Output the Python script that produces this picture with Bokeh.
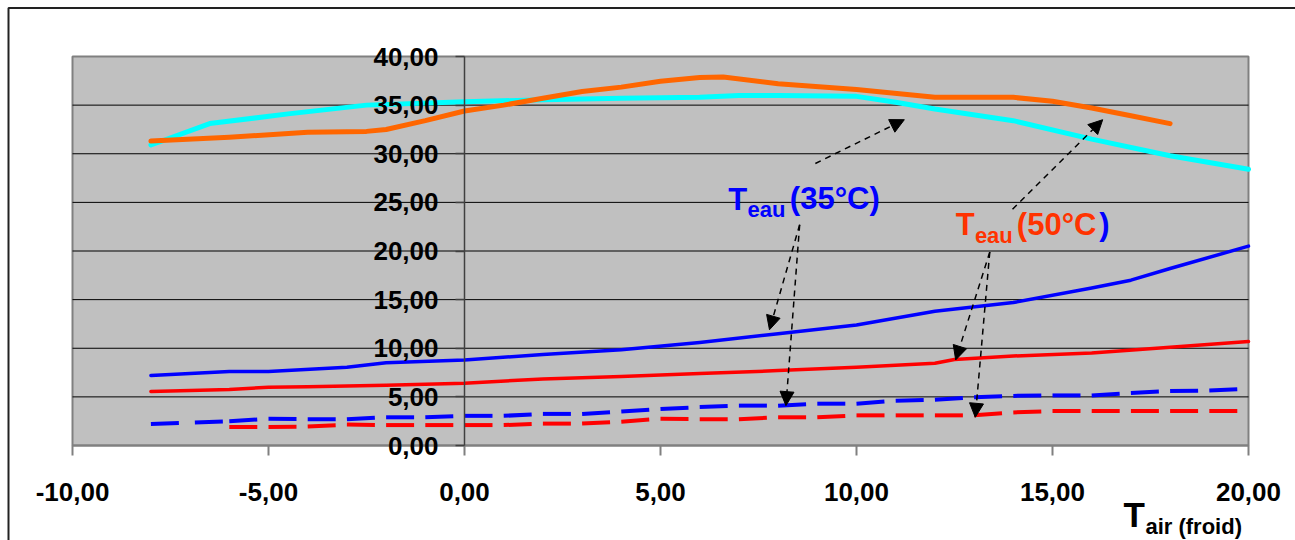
from bokeh.plotting import figure
from bokeh.models import (Range1d, FixedTicker, Label, Arrow, NormalHead, LinearAxis,
                          ColumnDataSource, BoxAnnotation)
from bokeh.embed import file_html
from bokeh.resources import INLINE

# ---------------- data ----------------
x_ticks = [-10, -5, 0, 5, 10, 15, 20]
y_ticks = [0, 5, 10, 15, 20, 25, 30, 35, 40]
grid_ticks = [5, 10, 15, 20, 25, 30, 35]

# cyan (upper curve, 35°C)
cyan_x = [-8, -6.5, -4.5, -2.5, 0, 2, 4, 6, 7, 8, 10, 11, 12, 14, 16, 18, 20]
cyan_y = [30.9, 33.1, 34.1, 35.0, 35.35, 35.55, 35.7, 35.8, 36.0, 36.0, 35.9, 35.3, 34.6, 33.4, 31.5, 29.8, 28.4]

# orange (upper curve, 50°C)
orange_x = [-8, -6, -4, -2.5, -2, -1, 0, 1, 2, 3, 4, 5, 6, 6.6, 8, 10, 12, 14, 15, 16, 17, 18]
orange_y = [31.3, 31.7, 32.2, 32.3, 32.5, 33.4, 34.4, 35.0, 35.7, 36.4, 36.85, 37.45, 37.85, 37.9,
            37.2, 36.6, 35.8, 35.8, 35.4, 34.7, 33.9, 33.1]

# blue solid
blue_x = [-8, -6, -5, -3, -2, 0, 2, 4, 6, 8, 10, 12, 14, 16, 17, 18, 20]
blue_y = [7.2, 7.6, 7.6, 8.05, 8.5, 8.8, 9.35, 9.85, 10.6, 11.5, 12.4, 13.8, 14.7, 16.2, 17.0, 18.2, 20.5]

# red solid
red_x = [-8, -6, -5, -4, -2, 0, 2, 4, 6, 8, 10, 12, 12.5, 14, 16, 18, 20]
red_y = [5.55, 5.75, 6.0, 6.05, 6.2, 6.4, 6.85, 7.1, 7.4, 7.7, 8.05, 8.45, 8.85, 9.2, 9.5, 10.1, 10.7]

# blue dashed
bdash_x = [-8, -6, -5, -4, -3, -2, -1, 0, 1, 2, 3, 4, 5, 6, 7, 8, 9, 10, 11, 12, 13, 14,
           15, 16, 17, 18, 19, 20]
bdash_y = [2.2, 2.5, 2.75, 2.7, 2.7, 2.9, 2.9, 3.05, 3.05, 3.25, 3.25, 3.5, 3.75, 3.95, 4.1, 4.1,
           4.3, 4.3, 4.6, 4.7, 4.95, 5.1, 5.15, 5.15, 5.4, 5.6, 5.65, 5.85]

# red dashed
rdash_x = [-6, -5, -4, -3, -2, -1, 0, 1, 2, 3, 4, 5, 6, 7, 8, 9, 10, 11, 12, 13, 14, 15, 16,
           17, 18, 19, 20]
rdash_y = [1.9, 1.9, 1.95, 2.15, 2.1, 2.1, 2.1, 2.1, 2.25, 2.25, 2.45, 2.75, 2.7, 2.7, 2.9, 2.9,
           3.1, 3.1, 3.1, 3.1, 3.4, 3.55, 3.55, 3.55, 3.55, 3.55, 3.55]

# annotation arrows (data coordinates)
arrow_x0 = [8.95, 8.55, 8.55, 13.98, 13.4, 13.4]
arrow_y0 = [29.0, 22.7, 22.7, 24.3, 19.9, 19.9]
arrow_x1 = [11.22, 7.78, 8.2, 16.28, 12.53, 13.03]
arrow_y1 = [33.5, 11.9, 4.1, 33.5, 8.8, 2.9]

# annotation texts (x = left edge, y = baseline, in data units)
ann_text = ["T", "eau", "(35°C)", "T", "eau", "(50°C", ")"]
ann_x = [6.73, 7.22, 8.30, 12.53, 13.02, 14.09, 16.19]
ann_y = [24.16, 23.44, 24.22, 21.59, 20.77, 21.59, 21.59]
ann_size = [31, 22, 31, 31, 22, 31, 31]
ann_color = ["#0000FF", "#0000FF", "#0000FF", "#FF3300", "#FF3300", "#FF3300", "#0000FF"]

axis_title_text = ["T", "air (froid)"]
axis_title_x = [16.81, 17.37]
axis_title_y = [-8.43, -9.15]
axis_title_size = [35, 22]

# ---------------- layout (pixels) ----------------
W, H = 1295, 540
PX_L, PX_R, PX_T, PX_B = 72, 1248, 56, 445
X0, X1, Y0, Y1 = -10, 20, 0, 40
sx = (PX_R - PX_L) / (X1 - X0)
sy = (PX_B - PX_T) / (Y1 - Y0)
xr = Range1d(X0 - PX_L / sx, X1 + (W - PX_R) / sx)
yr = Range1d(Y0 - (H - PX_B) / sy, Y1 + PX_T / sy)
BASELINE_FIX = 0.37  # label box offset, in em, so that y is the text baseline


def fmt(v):
    return ("%.2f" % v).replace(".", ",")


FONT = "Liberation Sans"

p = figure(width=W, height=H, output_backend="svg", toolbar_location=None,
           x_range=xr, y_range=yr, min_border=0,
           x_axis_location=None, y_axis_location=None)
p.min_border_left = p.min_border_right = p.min_border_top = p.min_border_bottom = 0
p.background_fill_color = "white"
p.border_fill_color = "white"
p.outline_line_color = None
p.grid.visible = False

# plot area (gray) with its gray frame
p.add_layout(BoxAnnotation(left=X0, right=X1, bottom=Y0, top=Y1, fill_color="#C0C0C0",
                           fill_alpha=1, line_color="#808080", line_alpha=1, line_width=2,
                           level="image"))

# horizontal gridlines
p.segment(x0=[X0] * len(grid_ticks), x1=[X1] * len(grid_ticks), y0=grid_ticks, y1=grid_ticks,
          line_color="black", line_width=1, level="underlay")

# outer chart border (left and top edges visible in the picture)
p.add_layout(BoxAnnotation(left=8, right=5000, top=7.5, bottom=5000,
                           left_units="canvas", right_units="canvas",
                           top_units="canvas", bottom_units="canvas",
                           fill_alpha=0, line_color="#222222", line_alpha=1, line_width=2,
                           level="overlay"))

# x axis (at y = 0)
xa = LinearAxis(fixed_location=0, bounds=(X0, X1))
xa.ticker = FixedTicker(ticks=x_ticks)
xa.major_label_overrides = {v: fmt(v) for v in x_ticks}
xa.minor_tick_line_color = None
xa.major_tick_in = 0
xa.major_tick_out = 10
xa.major_tick_line_color = "#808080"
xa.major_tick_line_width = 2
xa.axis_line_color = "#808080"
xa.axis_line_width = 2
xa.major_label_standoff = 27
xa.major_label_text_font = FONT
xa.major_label_text_font_style = "bold"
xa.major_label_text_font_size = "26px"
xa.major_label_text_color = "black"
p.add_layout(xa, "below")

# y axis (crossing at x = 0)
ya = LinearAxis(fixed_location=0, bounds=(Y0, Y1))
ya.ticker = FixedTicker(ticks=y_ticks)
ya.major_label_overrides = {v: fmt(v) for v in y_ticks}
ya.minor_tick_line_color = None
ya.major_tick_in = 0
ya.major_tick_out = 9
ya.major_tick_line_color = "#404040"
ya.major_tick_line_width = 1.5
ya.axis_line_color = "#404040"
ya.axis_line_width = 1.5
ya.major_label_standoff = 17
ya.major_label_text_font = FONT
ya.major_label_text_font_style = "bold"
ya.major_label_text_font_size = "26px"
ya.major_label_text_color = "black"
p.add_layout(ya, "left")

# series
p.line(cyan_x, cyan_y, line_color="#00FFFF", line_width=5, line_join="round", line_cap="round")
p.line(orange_x, orange_y, line_color="#FF6600", line_width=5, line_join="round", line_cap="round")
p.line(blue_x, blue_y, line_color="#0000FF", line_width=3.5, line_join="round", line_cap="round")
p.line(red_x, red_y, line_color="#FF0000", line_width=3.5, line_join="round", line_cap="round")

# dashed series: one segment per interval so the dash restarts at every point
p.segment(x0=bdash_x[:-1], y0=bdash_y[:-1], x1=bdash_x[1:], y1=bdash_y[1:],
          line_color="#0000FF", line_width=4, line_dash="28 16", line_cap="butt")
p.segment(x0=rdash_x[:-1], y0=rdash_y[:-1], x1=rdash_x[1:], y1=rdash_y[1:],
          line_color="#FF0000", line_width=4, line_dash="28 16", line_cap="butt")

# arrows
asrc = ColumnDataSource(dict(x0=arrow_x0, y0=arrow_y0, x1=arrow_x1, y1=arrow_y1))
p.add_layout(Arrow(source=asrc, x_start="x0", y_start="y0", x_end="x1", y_end="y1",
                   line_color="black", line_width=1.5, line_dash="6 5",
                   end=NormalHead(size=14, fill_color="black", line_color="black", line_width=1)))

# annotation texts
for t, x, y, s, c in zip(ann_text, ann_x, ann_y, ann_size, ann_color):
    p.add_layout(Label(x=x, y=y + BASELINE_FIX * s / sy, text=t, text_font=FONT,
                       text_font_style="bold", text_font_size="%dpx" % s, text_color=c,
                       text_align="left", text_baseline="alphabetic"))

for t, x, y, s in zip(axis_title_text, axis_title_x, axis_title_y, axis_title_size):
    p.add_layout(Label(x=x, y=y + BASELINE_FIX * s / sy, text=t, text_font=FONT,
                       text_font_style="bold", text_font_size="%dpx" % s, text_color="black",
                       text_align="left", text_baseline="alphabetic"))

open("out.html", "w").write(file_html(p, INLINE))
